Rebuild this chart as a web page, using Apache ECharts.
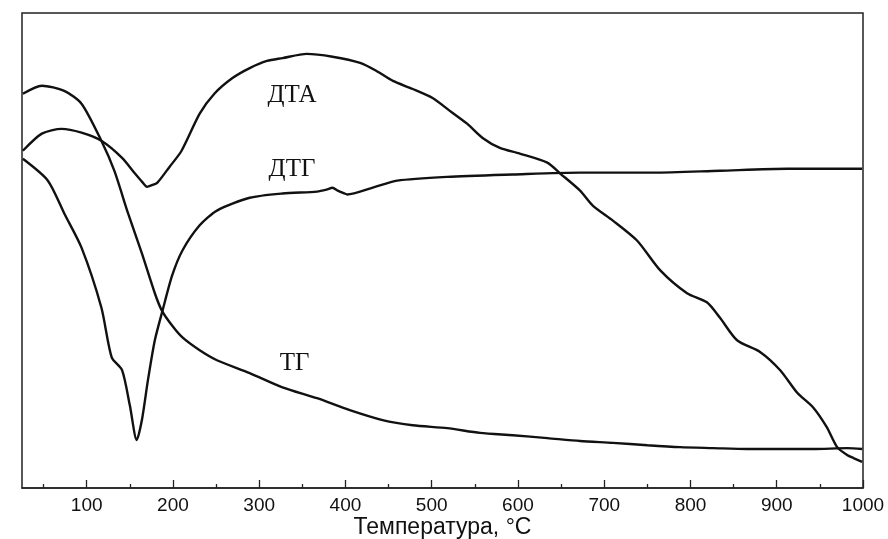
<!DOCTYPE html>
<html>
<head>
<meta charset="utf-8">
<script src="https://cdn.jsdelivr.net/npm/echarts@6/dist/echarts.min.js"></script>
<style>
html,body{margin:0;padding:0;background:#fff;}
#c{width:888px;height:539px;}
</style>
</head>
<body>
<div id="c"></div>
<script>
// Temperature axis ticks
const majorTicks = [100, 200, 300, 400, 500, 600, 700, 800, 900, 1000];
const minorTicks = [50, 150, 250, 350, 450, 550, 650, 750, 850, 950];

// DTA curve: [temperature °C, signal (arb. units, 0-100)]
const dta = [
  [26, 71.0], [48, 74.6], [71, 75.6], [94, 74.8], [117, 73.1], [141, 69.5],
  [156, 66.2], [164, 64.5], [170, 63.4], [175, 63.7], [182, 64.3], [196, 67.6],
  [210, 71.0], [231, 78.8], [248, 83.0], [269, 86.3], [289, 88.4], [309, 89.9],
  [327, 90.5], [355, 91.4], [385, 90.8], [417, 89.5], [436, 87.8], [455, 85.7],
  [478, 84.0], [501, 82.1], [521, 79.4], [541, 76.7], [559, 73.7], [579, 71.6],
  [602, 70.4], [634, 68.5], [649, 66.2], [672, 62.6], [687, 59.4], [710, 56.3],
  [738, 52.1], [765, 45.8], [796, 41.0], [819, 39.1], [834, 35.9], [854, 31.1],
  [881, 28.6], [904, 24.8], [924, 20.0], [942, 17.0], [958, 12.8], [970, 8.6],
  [982, 6.9], [989, 6.3], [999, 5.5]
];

// DTG curve
const dtg = [
  [26, 69.3], [55, 64.7], [74, 57.8], [94, 50.6], [117, 38.0], [129, 27.5],
  [141, 24.8], [150, 17.4], [158, 10.1], [164, 14.3], [171, 22.7], [179, 31.1],
  [188, 37.4], [199, 44.7], [211, 50.0], [231, 55.3], [251, 58.4], [289, 61.1],
  [327, 62.0], [367, 62.4], [378, 62.8], [385, 63.2], [391, 62.6], [399, 62.0],
  [402, 61.8], [431, 63.2], [460, 64.7], [518, 65.5], [594, 66.0], [672, 66.4],
  [757, 66.4], [834, 66.8], [912, 67.2], [999, 67.2]
];

// TG curve
const tg = [
  [26, 83.0], [48, 84.7], [74, 83.6], [94, 80.9], [117, 73.1], [132, 66.8],
  [148, 57.8], [164, 49.4], [179, 41.0], [187, 37.4], [199, 34.2], [211, 31.7],
  [231, 29.0], [251, 26.9], [289, 24.2], [327, 21.2], [367, 18.9], [405, 16.4],
  [443, 14.3], [478, 13.2], [518, 12.6], [556, 11.6], [594, 11.1], [634, 10.5],
  [672, 9.9], [710, 9.5], [750, 9.0], [788, 8.6], [826, 8.4], [866, 8.2],
  [904, 8.2], [942, 8.2], [982, 8.4], [999, 8.2]
];

// Curve annotations: [text, temperature, signal]
const curveLabels = [
  ['ДТА', 338, 82.6],
  ['ДТГ', 338, 67.0],
  ['ТГ', 341, 26.3]
];

const xName = 'Температура, °C';

const chart = echarts.init(document.getElementById('c'), null, {renderer: 'canvas'});

const lineSeries = (name, data) => ({
  name, type: 'line', data, xAxisIndex: 0, yAxisIndex: 0,
  showSymbol: false, smooth: 0.25, animation: false,
  lineStyle: {color: '#111', width: 2.4}
});

chart.setOption({
  animation: false,
  backgroundColor: '#fff',
  grid: {left: 22, right: 25, top: 13, bottom: 51, show: true,
         outerBoundsMode: 'none', containLabel: false,
         borderColor: '#222', borderWidth: 1.5, backgroundColor: 'transparent'},
  xAxis: [
    {
      type: 'value', min: 25, max: 1000, position: 'bottom',
      name: xName, nameLocation: 'middle', nameGap: 28, nameMoveOverlap: false,
      nameTextStyle: {fontFamily: 'Liberation Sans', fontSize: 23, color: '#111'},
      axisLine: {show: true, lineStyle: {color: '#222', width: 1.5}},
      axisTick: {show: true, inside: true, length: 8, customValues: majorTicks,
                 lineStyle: {color: '#222', width: 1.3}},
      axisLabel: {show: true, customValues: majorTicks, margin: 8,
                  formatter: v => String(v),
                  fontFamily: 'Liberation Sans', fontSize: 19, color: '#111'},
      splitLine: {show: false}
    },
    {
      type: 'value', min: 25, max: 1000, position: 'bottom',
      axisLine: {show: false},
      axisTick: {show: true, inside: true, length: 4, customValues: minorTicks,
                 lineStyle: {color: '#222', width: 1.3}},
      axisLabel: {show: false},
      splitLine: {show: false}
    }
  ],
  yAxis: {
    type: 'value', min: 0, max: 100, show: false,
    splitLine: {show: false}
  },
  series: [
    lineSeries('ДТА', dta),
    lineSeries('ДТГ', dtg),
    lineSeries('ТГ', tg)
  ]
});

const g = curveLabels.map(([text, x, y]) => {
  const p = chart.convertToPixel({xAxisIndex: 0, yAxisIndex: 0}, [x, y]);
  return {
    type: 'text', x: p[0], y: p[1],
    style: {text, fontFamily: 'Liberation Serif', fontSize: 25, fill: '#111',
            align: 'center', verticalAlign: 'middle'}
  };
});
chart.setOption({graphic: g});
</script>
</body>
</html>
